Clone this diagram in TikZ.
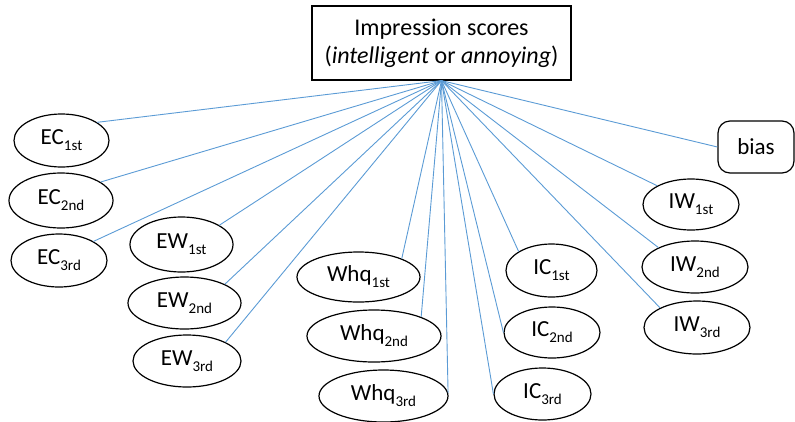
\documentclass[tikz,border=0pt]{standalone}
\usepackage{fontspec}
\setmainfont{Carlito}
\usetikzlibrary{shapes.geometric}
\definecolor{linkblue}{RGB}{91,155,213}
\newcommand\sbs[1]{\raisebox{-6pt}{\fontsize{15}{15}\selectfont #1}}
\begin{document}
\begin{tikzpicture}[x=1pt,y=-1pt,
  oval/.style={ellipse,draw,line width=1.2pt,inner sep=0pt,font=\fontsize{23}{26}\selectfont},
  conn/.style={draw=linkblue,line width=0.9pt}]
\useasboundingbox (0,0) rectangle (795,421);
\node[draw,line width=1.2pt,minimum width=259pt,minimum height=74pt,inner sep=0pt,align=center,font=\fontsize{24}{28}\selectfont] (top) at (441.5,43) {Impression scores\\(\textit{intelligent} or \textit{annoying})};
\node[oval,minimum width=95pt,minimum height=53pt] (ec1) at (61.5,140.5) {EC\sbs{1st}};
\node[oval,minimum width=104pt,minimum height=55pt] (ec2) at (61,200.5) {EC\sbs{2nd}};
\node[oval,minimum width=96pt,minimum height=53pt] (ec3) at (59,260.5) {EC\sbs{3rd}};
\node[oval,minimum width=103pt,minimum height=55pt] (ew1) at (181.5,244.5) {EW\sbs{1st}};
\node[oval,minimum width=113pt,minimum height=52pt] (ew2) at (184.5,303) {EW\sbs{2nd}};
\node[oval,minimum width=108pt,minimum height=52pt] (ew3) at (187,361) {EW\sbs{3rd}};
\node[oval,minimum width=123pt,minimum height=50pt] (wh1) at (358.5,277) {Whq\sbs{1st}};
\node[oval,minimum width=134pt,minimum height=52pt] (wh2) at (374,336) {Whq\sbs{2nd}};
\node[oval,minimum width=129pt,minimum height=52pt] (wh3) at (383.5,396) {Whq\sbs{3rd}};
\node[oval,minimum width=91pt,minimum height=53pt] (ic1) at (551.5,270.5) {IC\sbs{1st}};
\node[oval,minimum width=96pt,minimum height=51pt] (ic2) at (552,332.5) {IC\sbs{2nd}};
\node[oval,minimum width=97pt,minimum height=52pt] (ic3) at (542.5,394) {IC\sbs{3rd}};
\node[oval,minimum width=96pt,minimum height=51pt] (iw1) at (691,204.5) {IW\sbs{1st}};
\node[oval,minimum width=106pt,minimum height=52pt] (iw2) at (695,267) {IW\sbs{2nd}};
\node[oval,minimum width=106pt,minimum height=53pt] (iw3) at (697,327.5) {IW\sbs{3rd}};
\node[draw,rounded corners=12pt,line width=1.2pt,minimum width=76pt,minimum height=52pt,inner sep=0pt,font=\fontsize{23}{26}\selectfont] (bias) at (756,147) {bias};
\draw[conn] (top.south) -- (ec1.27);
\draw[conn] (top.south) -- (ec2.25);
\draw[conn] (top.south) -- (ec3.29);
\draw[conn] (top.south) -- (ew1.27);
\draw[conn] (top.south) -- (ew2.25);
\draw[conn] (top.south) -- (ew3.26);
\draw[conn] (top.south) -- (wh1.23);
\draw[conn] (top.south) -- (wh2.22);
\draw[conn] (top.south) -- (wh3.3);
\draw[conn] (top.south) -- (ic1.150);
\draw[conn] (top.south) -- (ic2.180);
\draw[conn] (top.south) -- (ic3.180);
\draw[conn] (top.south) -- (iw1.151);
\draw[conn] (top.south) -- (iw2.152);
\draw[conn] (top.south) -- (iw3.152);
\draw[conn] (top.south) -- (bias.west);
\end{tikzpicture}
\end{document}
